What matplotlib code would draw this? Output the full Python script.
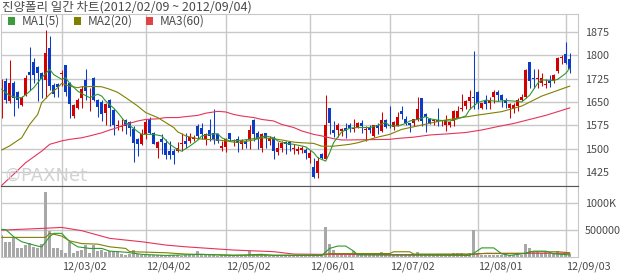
import numpy as np
import matplotlib.pyplot as plt
from matplotlib.patches import Rectangle

plt.rcParams['font.family'] = ['Noto Sans CJK KR', 'DejaVu Sans']

# labels
title = '진양폴리 일간 차트(2012/02/09 ~ 2012/09/04)'
date_pos = [15, 36, 56, 77, 97, 119, 141]
date_labels = ['12/03/02', '12/04/02', '12/05/02', '12/06/01', '12/07/02', '12/08/01', '12/09/03']
price_ticks = [1425, 1500, 1575, 1650, 1725, 1800, 1875]
vol_ticks = [500000, 1000000]
vol_tick_labels = ['500000', '1000K']
legend_names = ['MA1(5)', 'MA2(20)', 'MA3(60)']

# daily candles (143 trading days)
opens = [1610, 1718, 1652, 1712, 1682, 1640, 1674, 1746, 1779, 1764,
         1742, 1720, 1824, 1705, 1708, 1740, 1768, 1711, 1606, 1631,
         1664, 1722, 1687, 1726, 1656, 1650, 1614, 1656, 1625, 1574,
         1571, 1592, 1586, 1562, 1530, 1514, 1546, 1594, 1551, 1503,
         1530, 1517, 1492, 1492, 1492, 1514, 1525, 1525, 1530, 1573,
         1568, 1530, 1560, 1551, 1546, 1503, 1506, 1549, 1525, 1530,
         1514, 1525, 1530, 1592, 1549, 1503, 1549, 1525, 1535, 1489,
         1503, 1521, 1521, 1498, 1492, 1496, 1496, 1471, 1442, 1423,
         1482, 1468, 1632, 1560, 1560, 1557, 1568, 1576, 1563, 1571,
         1584, 1560, 1570, 1541, 1576, 1557, 1592, 1577, 1571, 1573,
         1621, 1594, 1581, 1584, 1592, 1663, 1610, 1596, 1588, 1592,
         1588, 1575, 1575, 1589, 1600, 1629, 1637, 1653, 1667, 1682,
         1632, 1656, 1648, 1667, 1682, 1671, 1656, 1632, 1629, 1637,
         1656, 1667, 1779, 1728, 1724, 1712, 1705, 1718, 1718, 1750,
         1792, 1805, 1787]
highs = [1725, 1728, 1786, 1716, 1686, 1668, 1738, 1828, 1790, 1766,
         1745, 1881, 1861, 1710, 1712, 1753, 1770, 1714, 1645, 1664,
         1700, 1757, 1695, 1729, 1660, 1655, 1648, 1660, 1630, 1591,
         1594, 1594, 1589, 1573, 1535, 1562, 1594, 1603, 1553, 1525,
         1546, 1530, 1525, 1498, 1521, 1551, 1551, 1551, 1543, 1578,
         1584, 1551, 1596, 1626, 1551, 1525, 1535, 1551, 1532, 1541,
         1530, 1530, 1575, 1594, 1557, 1549, 1551, 1541, 1541, 1521,
         1525, 1525, 1525, 1514, 1509, 1509, 1503, 1496, 1471, 1474,
         1487, 1672, 1632, 1589, 1581, 1568, 1581, 1581, 1594, 1586,
         1592, 1573, 1577, 1577, 1584, 1618, 1594, 1637, 1589, 1618,
         1637, 1605, 1584, 1596, 1667, 1664, 1614, 1600, 1592, 1632,
         1592, 1607, 1589, 1624, 1637, 1675, 1656, 1689, 1814, 1685,
         1648, 1671, 1667, 1689, 1689, 1675, 1664, 1648, 1648, 1664,
         1675, 1755, 1779, 1755, 1755, 1742, 1723, 1736, 1739, 1796,
         1800, 1843, 1806]
lows = [1600, 1648, 1648, 1604, 1630, 1636, 1668, 1687, 1712, 1652,
        1664, 1663, 1690, 1667, 1665, 1700, 1670, 1600, 1600, 1627,
        1632, 1658, 1622, 1654, 1601, 1590, 1575, 1572, 1545, 1560,
        1557, 1546, 1541, 1457, 1476, 1511, 1530, 1546, 1514, 1471,
        1482, 1466, 1466, 1450, 1489, 1492, 1503, 1519, 1525, 1530,
        1530, 1511, 1525, 1514, 1519, 1492, 1489, 1525, 1509, 1489,
        1500, 1503, 1500, 1525, 1500, 1489, 1503, 1511, 1468, 1479,
        1489, 1482, 1492, 1482, 1482, 1487, 1468, 1455, 1407, 1407,
        1468, 1466, 1546, 1539, 1539, 1541, 1535, 1554, 1554, 1568,
        1549, 1525, 1549, 1539, 1546, 1554, 1568, 1568, 1560, 1572,
        1594, 1575, 1554, 1573, 1589, 1573, 1554, 1578, 1575, 1573,
        1573, 1557, 1571, 1573, 1597, 1621, 1626, 1626, 1626, 1626,
        1626, 1626, 1629, 1648, 1653, 1635, 1632, 1600, 1616, 1621,
        1653, 1664, 1696, 1696, 1696, 1701, 1696, 1699, 1712, 1744,
        1771, 1771, 1744]
closes = [1712, 1655, 1712, 1663, 1655, 1664, 1727, 1737, 1737, 1744,
          1725, 1809, 1703, 1676, 1698, 1742, 1682, 1645, 1640, 1658,
          1691, 1684, 1690, 1656, 1633, 1610, 1645, 1630, 1575, 1576,
          1574, 1573, 1568, 1519, 1514, 1546, 1586, 1551, 1514, 1521,
          1521, 1479, 1479, 1479, 1503, 1517, 1514, 1538, 1538, 1541,
          1546, 1546, 1541, 1530, 1525, 1509, 1530, 1530, 1527, 1517,
          1525, 1514, 1560, 1546, 1530, 1546, 1535, 1535, 1492, 1503,
          1517, 1514, 1511, 1503, 1498, 1503, 1487, 1487, 1410, 1460,
          1471, 1575, 1584, 1549, 1575, 1562, 1557, 1565, 1566, 1584,
          1573, 1562, 1560, 1575, 1568, 1592, 1571, 1573, 1586, 1603,
          1611, 1584, 1575, 1594, 1629, 1589, 1603, 1584, 1590, 1586,
          1590, 1592, 1586, 1621, 1621, 1632, 1653, 1667, 1664, 1648,
          1646, 1643, 1656, 1682, 1671, 1656, 1648, 1643, 1639, 1656,
          1667, 1753, 1718, 1723, 1726, 1728, 1707, 1712, 1736, 1793,
          1794, 1775, 1757]
volumes = [398, 274, 274, 337, 151, 151, 213, 250, 175, 151,
           240, 1194, 478, 151, 151, 120, 62, 274, 62, 100,
           120, 213, 62, 213, 100, 120, 80, 100, 100, 80,
           50, 20, 40, 120, 40, 25, 20, 30, 20, 25,
           20, 30, 25, 20, 20, 15, 20, 25, 20, 100,
           30, 20, 25, 20, 15, 20, 25, 20, 15, 20,
           20, 25, 100, 40, 50, 40, 20, 15, 20, 20,
           15, 20, 20, 15, 20, 25, 20, 30, 40, 30,
           25, 552, 231, 120, 40, 40, 40, 30, 100, 30,
           30, 25, 30, 30, 40, 80, 30, 25, 30, 40,
           30, 25, 30, 35, 80, 40, 30, 30, 25, 30,
           30, 40, 35, 60, 60, 60, 40, 60, 490, 40,
           30, 35, 30, 30, 25, 30, 40, 30, 35, 40,
           30, 231, 150, 80, 80, 60, 80, 40, 40, 100,
           40, 80, 40]  # thousands

# moving averages (day index, value)
ma5_days = [0, 2, 4, 5, 6, 8, 10, 12, 13, 15, 16, 17, 19, 20, 22, 24, 25, 26, 28, 29,
            31, 34, 35, 38, 40, 42, 44, 45, 47, 49, 50, 52, 54, 55, 57, 60, 62, 64, 66, 68,
            69, 71, 73, 76, 78, 79, 81, 82, 83, 85, 87, 89, 92, 94, 96, 97, 99, 101, 102, 104,
            106, 107, 109, 111, 112, 114, 116, 117, 119, 121, 124, 126, 129, 130, 132, 134, 135, 138, 139, 141, 142]
ma5_vals = [1691, 1670, 1664, 1664, 1673, 1696, 1728, 1755, 1738, 1723, 1728, 1710, 1685, 1677, 1664, 1675, 1669, 1653, 1630, 1616,
            1584, 1555, 1546, 1546, 1541, 1514, 1497, 1492, 1508, 1527, 1541, 1546, 1548, 1535, 1525, 1527, 1530, 1535, 1541, 1535,
            1525, 1517, 1514, 1506, 1487, 1471, 1460, 1487, 1520, 1554, 1566, 1568, 1568, 1575, 1584, 1574, 1573, 1581, 1589, 1594,
            1603, 1596, 1592, 1589, 1589, 1596, 1605, 1626, 1648, 1656, 1652, 1655, 1652, 1650, 1672, 1710, 1721, 1719, 1723, 1742, 1758]
ma20_days = [0, 2, 5, 7, 9, 10, 12, 14, 15, 17, 19, 20, 23, 25, 27, 29, 31, 34, 36, 39,
             41, 43, 44, 46, 49, 51, 54, 56, 58, 60, 63, 65, 68, 70, 73, 75, 78, 80, 83, 85,
             87, 89, 92, 94, 97, 100, 105, 110, 119, 125, 130, 135, 142]
ma20_vals = [1496, 1509, 1535, 1578, 1610, 1648, 1675, 1696, 1710, 1701, 1696, 1699, 1700, 1699, 1691, 1681, 1664, 1637, 1616, 1600,
             1584, 1568, 1554, 1541, 1532, 1530, 1528, 1525, 1521, 1521, 1528, 1535, 1532, 1528, 1521, 1519, 1517, 1508, 1508, 1511,
             1514, 1519, 1530, 1537, 1546, 1562, 1576, 1590, 1608, 1619, 1637, 1669, 1701]
ma60_days = [0, 3, 6, 10, 12, 15, 17, 20, 22, 25, 27, 29, 31, 34, 36, 39, 41, 44, 46, 49,
             51, 54, 56, 58, 60, 63, 65, 68, 70, 73, 75, 78, 80, 83, 85, 87, 97, 99, 103, 107,
             112, 116, 120, 124, 128, 132, 136, 142]
ma60_vals = [1382, 1418, 1455, 1492, 1514, 1525, 1530, 1535, 1541, 1551, 1560, 1568, 1578, 1589, 1594, 1596, 1600, 1600, 1603, 1607,
             1614, 1620, 1618, 1610, 1605, 1600, 1594, 1589, 1578, 1568, 1557, 1546, 1541, 1532, 1528, 1528, 1530, 1533, 1537, 1544,
             1548, 1552, 1560, 1571, 1581, 1594, 1607, 1631]

vma5_days = [0, 1, 3, 5, 9, 10, 12, 13, 15, 17, 19, 22, 25, 27, 31, 35, 41, 50, 58, 65,
             68, 80, 82, 84, 86, 88, 89, 100, 117, 118, 120, 123, 125, 127, 131, 133, 136, 138, 142]
vma5_vals = [503, 500, 368, 274, 194, 180, 368, 430, 430, 274, 180, 150, 150, 100, 80, 40, 20, 40, 20, 40,
             20, 20, 150, 194, 194, 100, 30, 25, 20, 60, 160, 160, 50, 20, 60, 100, 100, 50, 30]
vma20_days = [0, 11, 12, 15, 17, 20, 24, 27, 31, 32, 41, 46, 58, 80, 82, 97, 98, 102, 103, 118,
              119, 131, 132, 139, 142]
vma20_vals = [355, 355, 430, 380, 290, 240, 230, 180, 150, 90, 70, 45, 25, 25, 55, 55, 88, 88, 45, 45,
              55, 55, 88, 88, 70]
vma60_days = [0, 10, 15, 20, 27, 35, 41, 46, 58, 68, 73, 80, 100, 118, 121, 142]
vma60_vals = [490, 522, 540, 480, 337, 274, 213, 180, 120, 90, 45, 40, 35, 40, 60, 60]

up_color = '#d40000'
down_color = '#0a3cc8'
ma_colors = ['#2e9a2e', '#808000', '#e5345a']
legend_colors = ['#3c9c3c', '#808000', '#e04444']
grid_color = '#c8c8c8'
text_color = '#4a4a4a'

W, H = 640, 280
fig = plt.figure(figsize=(6.4, 2.8), dpi=100)
fig.patch.set_facecolor('white')

left_px, right_px = 1, 578.3
ax = fig.add_axes([left_px / W, 1 - 186 / H, (right_px - left_px) / W, (186 - 14) / H])
axv = fig.add_axes([left_px / W, 1 - 256.5 / H, (right_px - left_px) / W, (256.5 - 186) / H])

xl = ((left_px - 1.7) / 4, (right_px - 1.7) / 4)
days = np.arange(len(closes))
o = np.array(opens, float)
c = np.array(closes, float)
h = np.array(highs, float)
l = np.array(lows, float)
up = c >= o
cols = np.where(up, up_color, down_color)

# candles
ax.vlines(days, l, h, colors=cols, lw=0.75, zorder=2)
bottoms = np.minimum(o, c)
heights = np.maximum(np.abs(c - o), 3.0)
ax.bar(days, heights, bottom=bottoms, width=0.78, color=cols, lw=0, zorder=2)

ax.plot(ma60_days, ma60_vals, color=ma_colors[2], lw=0.8, zorder=3)
ax.plot(ma20_days, ma20_vals, color=ma_colors[1], lw=0.8, zorder=3)
ax.plot(ma5_days, ma5_vals, color=ma_colors[0], lw=0.8, zorder=3)

ax.set_xlim(*xl)
ax.set_ylim(1380, 1932.9)
ax.set_xticks(date_pos)
ax.set_yticks(price_ticks)
ax.yaxis.tick_right()
ax.tick_params(axis='x', length=0, labelbottom=False)
ax.tick_params(axis='y', length=0, pad=4.8, labelsize=7.8, labelcolor=text_color)
ax.grid(True, color=grid_color, lw=1.0, zorder=0)
ax.set_axisbelow(True)
for s in ['top', 'left', 'right']:
    ax.spines[s].set_color(grid_color)
ax.spines['bottom'].set_color('#555555')

# volume panel
axv.bar(days, np.array(volumes) * 1000, width=0.78, color='#a8a8a8', lw=0, zorder=2)
axv.plot(vma60_days, np.array(vma60_vals) * 1000, color=ma_colors[2], lw=0.8, zorder=3)
axv.plot(vma20_days, np.array(vma20_vals) * 1000, color=ma_colors[1], lw=0.8, zorder=3)
axv.plot(vma5_days, np.array(vma5_vals) * 1000, color=ma_colors[0], lw=0.8, zorder=3)
axv.set_xlim(*xl)
axv.set_ylim(0, 1.31e6)
axv.set_xticks(date_pos)
axv.set_xticklabels(date_labels, ha='left')
axv.set_yticks(vol_ticks)
axv.set_yticklabels(vol_tick_labels)
axv.yaxis.tick_right()
axv.tick_params(axis='x', length=0, pad=3.5, labelsize=7.8, labelcolor=text_color)
axv.tick_params(axis='y', length=0, pad=4.8, labelsize=7.8, labelcolor=text_color)
axv.grid(True, color=grid_color, lw=1.0, zorder=0)
axv.set_axisbelow(True)
for s in ['bottom', 'left', 'right']:
    axv.spines[s].set_color(grid_color)
axv.spines['top'].set_color('#555555')

# title and legend row
fig.text(2 / W, 1 - 7.5 / H, title, ha='left', va='center', fontsize=9.0, color=text_color)
leg_x = [8, 74, 146]
for x0, name, col in zip(leg_x, legend_names, legend_colors):
    fig.patches.append(Rectangle((x0 / W, 1 - 24.5 / H), 7 / W, 7 / H,
                                 transform=fig.transFigure, color=col, lw=0))
    fig.text((x0 + 14) / W, 1 - 21 / H, name, ha='left', va='center', fontsize=8.6, color=text_color)

# watermark
fig.text(3 / W, 1 - 176 / H, '©PAXNet', ha='left', va='center', fontsize=13,
         color='#d2d2d2', family='DejaVu Sans', zorder=1)

fig.savefig('out.png', dpi=100)
